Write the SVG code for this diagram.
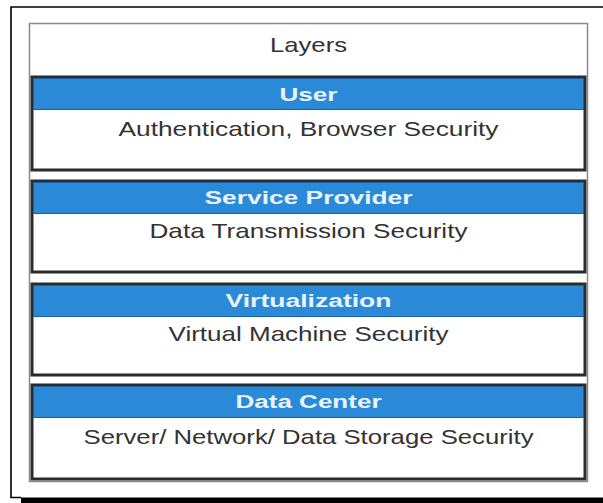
<svg xmlns="http://www.w3.org/2000/svg" width="603" height="503" viewBox="0 0 603 503">
  <style>
    .body { font-family: "Liberation Sans", Arial, sans-serif; font-size: 21px; fill: #333333; text-anchor: middle; }
    .head { font-family: "Liberation Sans", Arial, sans-serif; font-size: 18px; font-weight: bold; fill: #e8f3ff; text-anchor: middle; }
    .box { fill: #ffffff; stroke: #2b2b2b; stroke-width: 3; }
    .bar { fill: #2a8ad8; stroke: #1c5f9e; stroke-width: 1; }
  </style>
  <rect x="0" y="0" width="603" height="503" fill="#ffffff"/>
  <g id="frame">
    <path d="M603 7 H11 V497.5 H21" fill="none" stroke="#000000" stroke-width="1.6"/>
    <rect x="21" y="497.5" width="582" height="5.5" fill="#000000"/>
  </g>
  <g id="layers">
    <rect x="29.5" y="23.5" width="558" height="458" fill="#ffffff" stroke="#8a8a8a" stroke-width="1.5"/>
    <text class="body" x="308.5" y="51.5" textLength="77" lengthAdjust="spacingAndGlyphs">Layers</text>
  </g>
  <g id="user">
    <rect class="box" x="32" y="77" width="553" height="93"/>
    <rect class="bar" x="33.5" y="78.5" width="550" height="31"/>
    <text class="head" x="308.5" y="100.5" textLength="58" lengthAdjust="spacingAndGlyphs">User</text>
    <text class="body" x="308.5" y="135.5" textLength="380" lengthAdjust="spacingAndGlyphs">Authentication, Browser Security</text>
  </g>
  <g id="service-provider">
    <rect class="box" x="32" y="181" width="553" height="91"/>
    <rect class="bar" x="33.5" y="182.5" width="550" height="31"/>
    <text class="head" x="308.5" y="204" textLength="208" lengthAdjust="spacingAndGlyphs">Service Provider</text>
    <text class="body" x="308.5" y="237.5" textLength="318" lengthAdjust="spacingAndGlyphs">Data Transmission Security</text>
  </g>
  <g id="virtualization">
    <rect class="box" x="32" y="284" width="553" height="91"/>
    <rect class="bar" x="33.5" y="285.5" width="550" height="31"/>
    <text class="head" x="308.5" y="307" textLength="166" lengthAdjust="spacingAndGlyphs">Virtualization</text>
    <text class="body" x="308.5" y="340.5" textLength="280" lengthAdjust="spacingAndGlyphs">Virtual Machine Security</text>
  </g>
  <g id="data-center">
    <rect class="box" x="32" y="385" width="553" height="94"/>
    <rect class="bar" x="33.5" y="386.5" width="550" height="31"/>
    <text class="head" x="308.5" y="408" textLength="146" lengthAdjust="spacingAndGlyphs">Data Center</text>
    <text class="body" x="308.5" y="443.5" textLength="450" lengthAdjust="spacingAndGlyphs">Server/ Network/ Data Storage Security</text>
  </g>
</svg>
